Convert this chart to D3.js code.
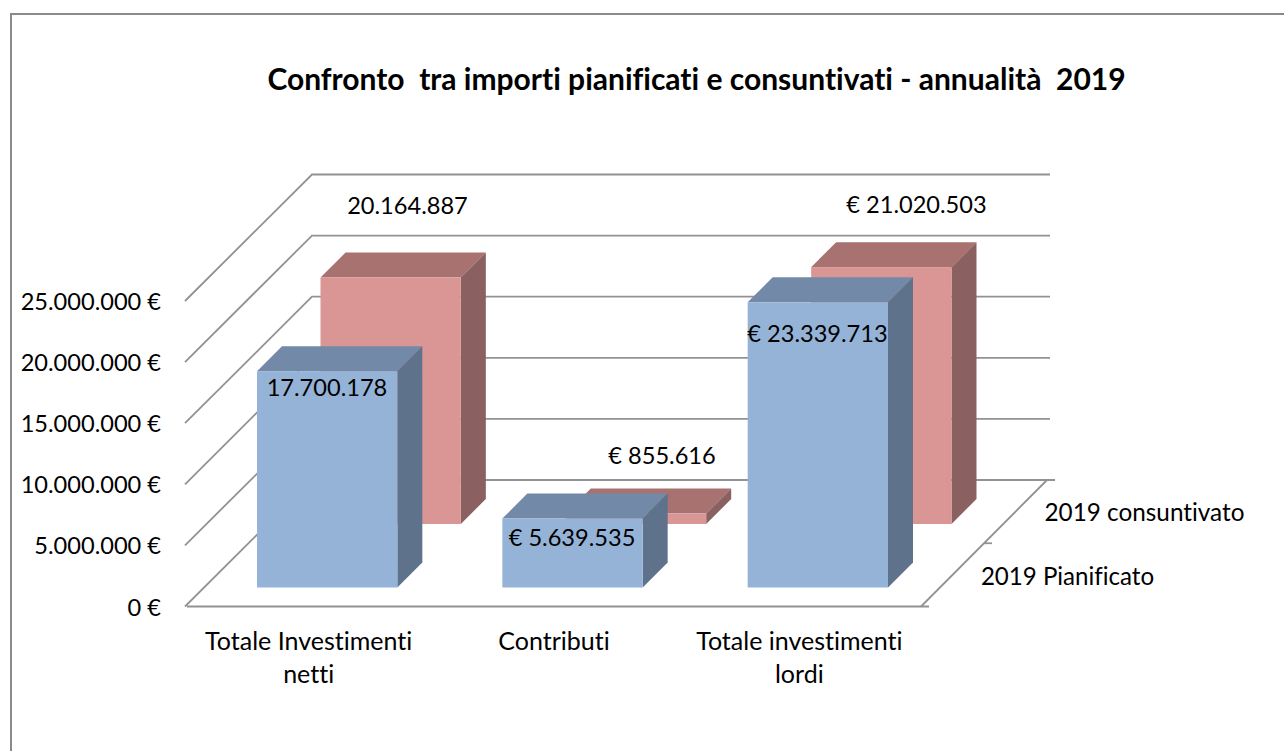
<!DOCTYPE html>
<html><head><meta charset="utf-8">
<script src="https://cdn.jsdelivr.net/npm/d3@7"></script>
<style>html,body{margin:0;padding:0;background:#fff}svg{display:block}text{font-family:Lato,"Open Sans",sans-serif;fill:#000;font-variant-ligatures:none;white-space:pre}</style>
</head><body><svg id="c" width="1284" height="751"></svg>
<script>
const categories = ["Totale Investimenti netti", "Contributi", "Totale investimenti lordi"];
const categoryLines = [["Totale Investimenti","netti"],["Contributi"],["Totale investimenti","lordi"]];
const pianificato = [17700178, 5639535, 23339713];
const consuntivato = [20164887, 855616, 21020503];
const pianificatoLabels = ["17.700.178", "€ 5.639.535", "€ 23.339.713"];
const consuntivatoLabels = ["20.164.887", "€ 855.616", "€ 21.020.503"];
const seriesNames = ["2019 Pianificato", "2019 consuntivato"];
const ticks = [0, 5000000, 10000000, 15000000, 20000000, 25000000];
const tickLabels = ["0 €","5.000.000 €","10.000.000 €","15.000.000 €","20.000.000 €","25.000.000 €"];
const title = "Confronto  tra importi pianificati e consuntivati - annualità  2019";

const svg = d3.select("#c");
const W0 = 187, W1 = 921, Y0 = 606.5, DX = 126, DY = 126.5;
const x = d3.scaleBand().domain(categories).range([W0, W1+2]).paddingInner(0.428).paddingOuter(0.214);
const h = d3.scaleLinear().domain([0, 25000000]).range([0, 305.5]);
const grey = "#929292";

// frame
svg.append("path").attr("d","M11,751V14H1284").attr("fill","none").attr("stroke","#8a8a8a").attr("stroke-width",2);

// title
svg.append("text").attr("x",696.5).attr("y",90).attr("text-anchor","middle")
  .attr("font-size",30).attr("font-weight",700).text(title);

// walls and floor
const g = svg.append("g").attr("fill","none").attr("stroke",grey).attr("stroke-width",1.8);
ticks.forEach(t=>{
  const y = Y0 - h(t);
  g.append("path").attr("d",`M${W0-2},${y}L${W0-2+DX+1},${y-DY}H1050`);
});
g.append("path").attr("d",`M${W1+8},${Y0}H${W0}`);
g.append("path").attr("d",`M${W1},${Y0}L${W1+DX},${Y0-DY}H${W1+DX+8}`);
g.append("path").attr("d",`M${W1+DX/2},${Y0-DY/2}h8`);

// axis labels
const tl = svg.append("g").attr("font-size",23.6).attr("text-anchor","end");
ticks.forEach((t,i)=>tl.append("text").attr("x",161).attr("y",Y0-h(t)+9).text(tickLabels[i]));

const cl = svg.append("g").attr("font-size",25).attr("text-anchor","middle");
categories.forEach((c,i)=>{
  categoryLines[i].forEach((l,j)=>cl.append("text").attr("x",x(c)+x.bandwidth()/2-1).attr("y",650+j*33).text(l));
});
svg.append("text").attr("x",1144.5).attr("y",521).attr("font-size",24.3).attr("text-anchor","middle").text(seriesNames[1]);
svg.append("text").attr("x",1067.5).attr("y",585).attr("font-size",24.1).attr("text-anchor","middle").text(seriesNames[0]);

// bars
const barDX = 25, barDY = 25;
function bars(vals, dx, base, col){
  const gg = svg.append("g");
  categories.forEach((c,i)=>{
    const a = x(c)+dx, w = x.bandwidth(), top = base - h(vals[i]);
    gg.append("path").attr("fill",col[1]).attr("d",`M${a},${top}l${barDX},${-barDY}h${w}l${-barDX},${barDY}z`);
    gg.append("path").attr("fill",col[2]).attr("d",`M${a+w},${top}l${barDX},${-barDY}V${base-barDY}l${-barDX},${barDY}z`);
    gg.append("rect").attr("fill",col[0]).attr("x",a).attr("y",top).attr("width",w).attr("height",base-top);
  });
}
bars(consuntivato, 81, 524, ["#D99694","#A7726F","#8B6060"]);
bars(pianificato, 17.5, 587.5, ["#95B3D7","#7389A8","#5F728B"]);

// data labels
const labelsBack = svg.append("g").attr("font-size",23.6).attr("text-anchor","middle");
const backPos = [[407.5,214],[662,464],[916.5,213]];
const frontPos = [[327,396],[572,546],[817.5,342]];
consuntivatoLabels.forEach((l,i)=>labelsBack.append("text").attr("x",backPos[i][0]).attr("y",backPos[i][1]).text(l));
pianificatoLabels.forEach((l,i)=>labelsBack.append("text").attr("x",frontPos[i][0]).attr("y",frontPos[i][1]).text(l));
</script></body></html>
